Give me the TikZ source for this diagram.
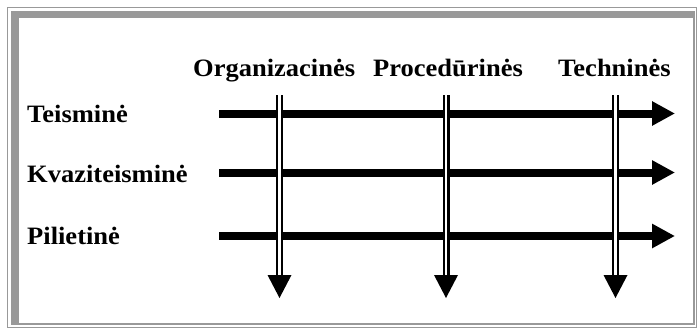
\documentclass[tikz,border=0pt]{standalone}
\usepackage{fontspec}
\setmainfont{Liberation Serif}[FakeStretch=1.06]
\usetikzlibrary{arrows.meta}
\definecolor{framegray}{HTML}{999999}
\tikzset{
  lbl/.style={anchor=base west, inner sep=0pt, font=\fontsize{25}{28}\selectfont\bfseries},
  hbar/.style={line width=8pt, -{Triangle[length=23pt,width=23pt]}},
  vbar/.style={double, double distance=2.6pt, line width=2.2pt},
  vhead/.style={fill=black}
}
\begin{document}
\begin{tikzpicture}[x=1pt,y=-1pt]
\useasboundingbox (0,0) rectangle (698,329);
% frame
\draw[framegray, line width=1.1pt] (7.5,7.5) rectangle (696.8,327.6);
\fill[framegray] (11,11) rectangle (695,325);
\fill[white] (18.5,18.5) rectangle (692.8,322.8);
% labels
\node[lbl] (org) at (193,76) {Organizacinės};
\node[lbl] (proc) at (373,76) {Procedūrinės};
\node[lbl] (tech) at (558,76) {Techninės};
\node[lbl] (teis) at (27,122) {Teisminė};
\node[lbl] (kvaz) at (27,182) {Kvaziteisminė};
\node[lbl] (pil) at (27,244) {Pilietinė};
% horizontal arrows
\coordinate (h1s) at (219,113.5); \coordinate (h1e) at (675,113.5);
\coordinate (h2s) at (219,172.5); \coordinate (h2e) at (675,172.5);
\coordinate (h3s) at (219,236);   \coordinate (h3e) at (675,236);
\draw[hbar] (h1s) -- (h1e);
\draw[hbar] (h2s) -- (h2e);
\draw[hbar] (h3s) -- (h3e);
% vertical double arrows
\foreach \n/\x in {a/279.5, b/446, c/615.5}{
  \coordinate (v\n s) at (\x,95);
  \coordinate (v\n e) at (\x,277);
  \draw[vbar] (v\n s) -- (v\n e);
  \fill[vhead] (\x-12,275) -- (\x+12,275) -- (\x,298) -- cycle;
}
\end{tikzpicture}
\end{document}
